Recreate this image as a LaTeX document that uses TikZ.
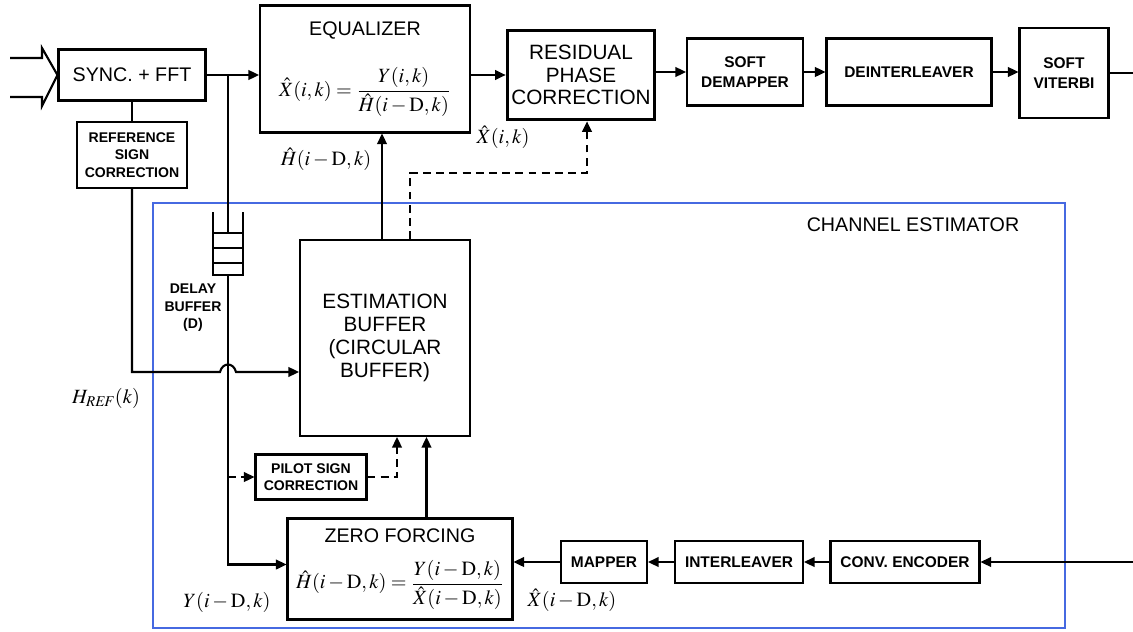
\documentclass[tikz,border=0pt]{standalone}
\usepackage{amsmath}
\usepackage{mathptmx}
\usepackage{fontspec}
\setmainfont{Liberation Sans}
\usetikzlibrary{arrows.meta,positioning}
\definecolor{estblue}{RGB}{70,105,225}
\tikzset{
  >={Triangle[length=6pt,width=5.5pt]},
  blk/.style={draw, line width=1.2pt, inner sep=1pt, align=center},
  bigtxt/.style={font=\fontsize{11.2}{12.5}\selectfont},
  midtxt/.style={font=\fontsize{11.8}{13}\selectfont},
  smalltxt/.style={font=\bfseries\fontsize{8}{10}\selectfont},
  chaintxt/.style={font=\bfseries\fontsize{8.8}{11}\selectfont},
  mlab/.style={font=\fontsize{11.5}{13}\selectfont, inner sep=0pt},
  sig/.style={line width=1.2pt},
  dsig/.style={line width=1.2pt, dash pattern=on 4.5pt off 3pt}
}
\begin{document}
\begin{tikzpicture}[x=0.02cm, y=-0.02cm]
  \useasboundingbox (0,0) rectangle (1133,632);
  % channel estimator frame
  \draw[estblue, line width=0.9pt] (153,203) rectangle (1065,628);
  \node[bigtxt] (cetitle) at (913,225) {CHANNEL ESTIMATOR};
  % receiver chain
  \node[blk, bigtxt, minimum width=2.94cm, minimum height=1.02cm] (sync) at (132,75) {SYNC. + FFT};
  \node[blk, smalltxt, minimum width=2.2cm, minimum height=1.32cm] (refsign) at (132,155) {REFERENCE\\SIGN\\CORRECTION};
  \node[blk, bigtxt, minimum width=4.2cm, minimum height=2.54cm] (eq) at (365,69)
    {EQUALIZER\\[15pt]{\fontsize{11.5}{13}\selectfont$\hat{X}(i,k)=\dfrac{Y(i,k)}{\hat{H}(i-\mathrm{D},k)}$}};
  \node[blk, midtxt, line width=2.1pt, minimum width=2.94cm, minimum height=1.78cm] (res) at (581,75) {RESIDUAL\\PHASE\\CORRECTION};
  \node[blk, chaintxt, minimum width=2.32cm, minimum height=1.34cm] (demap) at (745,72) {SOFT\\DEMAPPER};
  \node[blk, chaintxt, minimum width=3.3cm, minimum height=1.34cm] (deint) at (909,72) {DEINTERLEAVER};
  \node[blk, chaintxt, minimum width=1.78cm, minimum height=1.8cm] (vit) at (1064,73) {SOFT\\VITERBI};
  \coordinate (rxout) at (1133,73);
  % channel estimator blocks
  \node[blk, midtxt, minimum width=3.4cm, minimum height=3.92cm] (est) at (385,338) {ESTIMATION\\BUFFER\\(CIRCULAR\\BUFFER)};
  \node[blk, smalltxt, minimum width=2.22cm, minimum height=0.9cm] (pilot) at (311,477) {PILOT SIGN\\CORRECTION};
  \node[blk, bigtxt, minimum width=4.5cm, minimum height=2.02cm] (zf) at (400,569)
    {ZERO FORCING\\[9pt]{\fontsize{11.5}{13}\selectfont$\hat{H}(i-\mathrm{D},k)=\dfrac{Y(i-\mathrm{D},k)}{\hat{X}(i-\mathrm{D},k)}$}};
  \node[blk, chaintxt, minimum width=1.72cm, minimum height=0.84cm] (mapper) at (604,562) {MAPPER};
  \node[blk, chaintxt, minimum width=2.56cm, minimum height=0.84cm] (inter) at (739,562) {INTERLEAVER};
  \node[blk, chaintxt, minimum width=2.98cm, minimum height=0.84cm] (conv) at (905,562) {CONV. ENCODER};
  \coordinate (encin) at (1133,562);
  % delay buffer
  \coordinate (tap) at (228,75);
  \coordinate (dbuftop) at (228,233);
  \coordinate (dbuf) at (228,275);
  \draw[sig] (dbuf) ++(-15,-63) -- ++(0,63) -- ++(30,0) -- ++(0,-63);
  \foreach \yy in {-12,-27,-42}
    \draw[sig] ([shift={(-15,\yy)}]dbuf) -- ++(30,0);
  \node[smalltxt, align=center] (dbuflabel) at (193,308) {DELAY\\BUFFER\\(D)};
  \coordinate (hop) at (228,372);
  \coordinate (dkink) at (500,173);
  % labels
  \node[mlab] (xhatlab) at (503,137) {$\hat{X}(i,k)$};
  \node[mlab] (hhatlab) at (326,159) {$\hat{H}(i-\mathrm{D},k)$};
  \node[mlab] (hreflab) at (106,398) {$H_{\mathit{REF}}(k)$};
  \node[mlab] (ylab) at (227,602) {$Y(i-\mathrm{D},k)$};
  \node[mlab] (xdlab) at (572,600) {$\hat{X}(i-\mathrm{D},k)$};
  % input arrow
  \draw[line width=1.2pt] (10,58) -- (42,58) -- (42,48) -- (sync.west) -- (42,106) -- (42,97) -- (10,97);
  \begin{scope}[sig]
    \draw[->] (sync.east) -- (sync.east -| eq.west);
    \draw[->] (res.west -| eq.east) -- (res.west);
    \draw[->] (res.east |- demap.west) -- (demap.west);
    \draw[->] (demap.east) -- (deint.west);
    \draw[->] (deint.east) -- (deint.east -| vit.west);
    \draw (vit.east) -- (rxout);
    \draw (sync.south) -- (refsign.north);
    \draw[->] (refsign.south) |- ([xshift=-0.16cm]hop)
      .. controls +(0.05cm,0.2cm) and +(-0.05cm,0.2cm) .. ([xshift=0.16cm]hop)
      -- ([yshift=-0.68cm]est.west);
    \draw (tap) -- (dbuftop);
    \draw[->] (dbuf) |- ([yshift=0.09cm]zf.west);
    \draw[->] ([xshift=-0.06cm]est.north) -- ([xshift=-0.06cm]est.north |- eq.south);
    \draw[->] ([xshift=0.53cm]zf.north) -- ([xshift=0.53cm]zf.north |- est.south);
    \draw[->] (encin) -- (conv.east);
    \draw[->] (conv.west) -- (inter.east);
    \draw[->] (inter.west) -- (mapper.east);
    \draw[->] (mapper.west) -- (mapper.west -| zf.east);
  \end{scope}
  \begin{scope}[dsig]
    \draw[->] ([xshift=0.5cm]est.north) |- (dkink) -| ([xshift=0.12cm]res.south);
    \draw[->] (dbuf |- pilot.west) -- (pilot.west);
    \draw[->] (pilot.east) -| ([xshift=0.24cm]est.south);
  \end{scope}
\end{tikzpicture}
\end{document}
